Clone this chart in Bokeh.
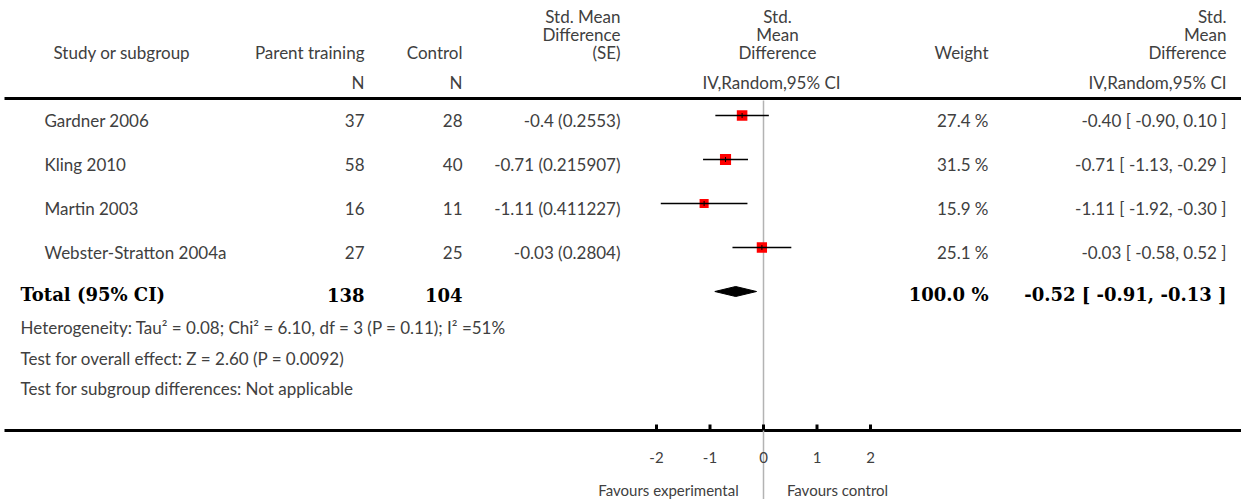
from bokeh.plotting import figure
from bokeh.models import Range1d, ColumnDataSource
from bokeh.core.properties import value
from bokeh.embed import file_html
from bokeh.resources import INLINE

# ---------------- data ----------------
studies = ["Gardner 2006", "Kling 2010", "Martin 2003", "Webster-Stratton 2004a"]
n_exp = [37, 58, 16, 27]
n_ctrl = [28, 40, 11, 25]
smd = [-0.40, -0.71, -1.11, -0.03]
smd_raw = ["-0.4", "-0.71", "-1.11", "-0.03"]
se = ["0.2553", "0.215907", "0.411227", "0.2804"]
ci_low = [-0.90, -1.13, -1.92, -0.58]
ci_high = [0.10, -0.29, -0.30, 0.52]
weights = [27.4, 31.5, 15.9, 25.1]

total_label = "Total (95% CI)"
total_exp = 138
total_ctrl = 104
total_weight = 100.0
total_est = -0.52
total_low = -0.91
total_high = -0.13

footnotes = [
    "Heterogeneity: Tau\u00b2 = 0.08; Chi\u00b2 = 6.10, df = 3 (P = 0.11); I\u00b2 =51%",
    "Test for overall effect: Z = 2.60 (P = 0.0092)",
    "Test for subgroup differences: Not applicable",
]
tick_values = [-2, -1, 0, 1, 2]
tick_labels = ["-2", "-1", "0", "1", "2"]
favours = ["Favours experimental", "Favours control"]

# ---------------- layout ----------------
W, H = 1241, 499
X0 = 763.0        # pixel of effect 0
UNIT = 53.5       # px per effect unit
FONT = value("Lato")
SERIF = value("DejaVu Serif")
TXT = "#404040"
FS = "17px"
BFS = "18px"

p = figure(width=W, height=H, output_backend="svg", toolbar_location=None,
           x_range=Range1d(-X0 / UNIT, (W - X0) / UNIT),
           y_range=Range1d(H, 0),
           x_axis_type=None, y_axis_type=None, min_border=0,
           outline_line_color=None)
p.extra_x_ranges = {"px": Range1d(0, W)}
p.xgrid.visible = False
p.ygrid.visible = False
p.background_fill_color = "white"
p.border_fill_color = "white"


def txt(x, y, s, align="left", size=FS, font=FONT, style="normal", color=TXT):
    p.text(x=[x], y=[y], text=[s], x_range_name="px", text_align=align,
           text_baseline="middle", text_font=font, text_font_size=size,
           text_font_style=style, text_color=color)


# headers
txt(53, 52, "Study or subgroup")
txt(364, 52, "Parent training", "right")
txt(462, 52, "Control", "right")
txt(364, 82, "N", "right")
txt(462, 82, "N", "right")
for yy, s in zip([16, 34, 52], ["Std. Mean", "Difference", "(SE)"]):
    txt(620, yy, s, "right")
for yy, s in zip([16, 34, 52], ["Std.", "Mean", "Difference"]):
    txt(777, yy, s, "center")
    txt(1226, yy, s, "right")
txt(771, 82, "IV,Random,95% CI", "center")
txt(1226, 82, "IV,Random,95% CI", "right")
txt(988, 52, "Weight", "right")

# rules
p.segment(x0=[4], x1=[W], y0=[98], y1=[98], x_range_name="px",
          line_color="black", line_width=3)
p.segment(x0=[4], x1=[W], y0=[430], y1=[430], x_range_name="px",
          line_color="black", line_width=3)

# zero line
p.segment(x0=[0], x1=[0], y0=[100], y1=[H], line_color="#b3b3b3", line_width=1.5)

# rows
ROW0, DY = 115, 44
row_y = [ROW0 + DY * i for i in range(len(studies))]
for i, y in enumerate(row_y):
    ty = y + 5
    txt(44, ty, studies[i])
    txt(364, ty, str(n_exp[i]), "right")
    txt(462, ty, str(n_ctrl[i]), "right")
    txt(620, ty, f"{smd_raw[i]} ({se[i]})", "right")
    txt(988, ty, f"{weights[i]:.1f} %", "right")
    txt(1226, ty, f"{smd[i]:.2f} [ {ci_low[i]:.2f}, {ci_high[i]:.2f} ]", "right")

src = ColumnDataSource(dict(
    y=row_y, est=smd, lo=ci_low, hi=ci_high,
    size=[7 + 0.13 * w for w in weights],
    yt=[y - 2.5 for y in row_y], yb=[y + 2.5 for y in row_y],
))
p.scatter(x="est", y="y", size="size", marker="square", fill_color="#ff0000",
          line_color=None, source=src)
p.segment(x0="lo", x1="hi", y0="y", y1="y", line_color="black", line_width=1.5, source=src)
p.segment(x0="est", x1="est", y0="yt", y1="yb", line_color="black", line_width=1, source=src)

# total
ty_total = ROW0 + DY * len(studies)
tb = ty_total + 3
txt(20, tb, total_label, size=BFS, font=SERIF, style="bold", color="black")
txt(364, tb, str(total_exp), "right", size=BFS, font=SERIF, style="bold", color="black")
txt(462, tb, str(total_ctrl), "right", size=BFS, font=SERIF, style="bold", color="black")
txt(988, tb, f"{total_weight:.1f} %", "right", size=BFS, font=SERIF, style="bold", color="black")
txt(1226, tb, f"{total_est:.2f} [ {total_low:.2f}, {total_high:.2f} ]", "right",
    size=BFS, font=SERIF, style="bold", color="black")
p.patch(x=[total_low, total_est, total_high, total_est],
        y=[ty_total, ty_total - 5, ty_total, ty_total + 5],
        fill_color="black", line_color="black")

# footnotes
for j, s in enumerate(footnotes):
    txt(20, 327 + 30.5 * j, s)

# axis ticks and labels
p.segment(x0=tick_values, x1=tick_values, y0=[424] * 5, y1=[430] * 5,
          line_color="black", line_width=3)
p.text(x=tick_values, y=[457] * 5, text=tick_labels, text_align="center",
       text_baseline="middle", text_font=FONT, text_font_size="15px", text_color=TXT)
txt(668, 489, favours[0], "center", size="15px")
txt(837, 489, favours[1], "center", size="15px")

open("out.html", "w").write(file_html(p, INLINE))
